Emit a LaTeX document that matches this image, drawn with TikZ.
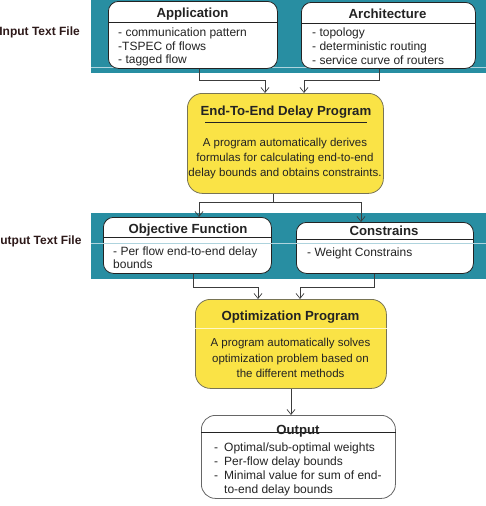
\documentclass[tikz,border=0pt]{standalone}
\usepackage{fontspec}
\setmainfont{Liberation Sans}
\usetikzlibrary{arrows.meta}
\definecolor{teal1}{RGB}{40,142,162}
\definecolor{yel}{RGB}{250,227,70}
\definecolor{yelb}{RGB}{120,116,85}
\definecolor{ink}{RGB}{35,35,35}
\definecolor{conncol}{RGB}{60,60,60}
\definecolor{lbl}{RGB}{45,25,25}
\definecolor{bandline}{RGB}{175,212,222}
\begin{document}
\begin{tikzpicture}[x=1pt,y=-1pt,
 band/.style={fill=teal1, draw=none, minimum width=395pt, anchor=north west, inner sep=0pt},
 wbox/.style={draw=ink, fill=white, rounded corners=10pt, line width=0.8pt, anchor=north west, inner sep=0pt},
 ybox/.style={draw=yelb, fill=yel, rounded corners=15pt, line width=0.8pt, anchor=north west, inner sep=0pt},
 obox/.style={draw=gray!80!black, fill=white, rounded corners=14pt, line width=0.8pt, anchor=north west, inner sep=0pt},
 ttl/.style={font=\fontsize{13.2}{15}\selectfont\bfseries, text=ink, inner sep=0pt, anchor=base},
 body/.style={font=\fontsize{12}{14}\selectfont, text=ink, inner sep=0pt, anchor=base west},
 cbody/.style={font=\fontsize{11.5}{14}\selectfont, text=ink, inner sep=0pt, anchor=base},
 lab/.style={font=\fontsize{12}{14}\selectfont\bfseries, text=lbl, inner sep=0pt, anchor=base east},
 conn/.style={draw=conncol, line width=0.7pt, -{Straight Barb[length=5pt,width=8pt]}},
 plainconn/.style={draw=conncol, line width=0.7pt},
 sepline/.style={draw=ink, line width=0.7pt},
]
\useasboundingbox (0,0) rectangle (486,506);
\clip (0,0) rectangle (486,506);

% bands
\node[band, minimum height=73pt] (band1) at (91,0) {};
\node[band, minimum height=66pt] (band2) at (91,213) {};
\draw[bandline, line width=0.8pt] (band1.west |- 0,67) -- (band1.east |- 0,67);

% labels
\node[lab] (inlab) at (80,35.7) {Input Text File};
\node[lab] (outlab) at (81.7,244.3) {Output Text File};

% top boxes
\node[wbox, minimum width=169pt, minimum height=67pt] (app) at (108,1) {};
\node[wbox, minimum width=174pt, minimum height=66pt] (arch) at (301,2) {};
\draw[sepline] (app.west |- 0,22) -- (app.east |- 0,22);
\draw[sepline] (arch.west |- 0,23) -- (arch.east |- 0,23);
\node[ttl] (appt) at (192.5,17.3) {Application};
\node[body] (app1) at (118,36.5) {- communication pattern};
\node[body] (app2) at (118,50) {-TSPEC of flows};
\node[body] (app3) at (118,63.5) {- tagged flow};
\node[ttl] (archt) at (387.5,18.3) {Architecture};
\node[body] (arch1) at (312,36) {- topology};
\node[body] (arch2) at (312,50) {- deterministic routing};
\node[body] (arch3) at (312,64) {- service curve of routers};

% end-to-end box
\node[ybox, minimum width=196pt, minimum height=100pt] (e2e) at (187,93) {};
\node[ttl] (e2et) at (286,115) {End-To-End Delay Program};
\draw[sepline] (205,122) -- (367,122);
\node[cbody] (e2e1) at (285,146.7) {A program automatically derives};
\node[cbody] (e2e2) at (285,161.7) {formulas for calculating end-to-end};
\node[cbody] (e2e3) at (285,176.7) {delay bounds and obtains constraints.};

% middle boxes
\node[wbox, minimum width=168pt, minimum height=56pt] (obj) at (103,217) {};
\node[wbox, minimum width=177pt, minimum height=51pt] (cons) at (296,222) {};
\draw[sepline] (obj.west |- 0,237) -- (obj.east |- 0,237);
\draw[sepline] (cons.west |- 0,239) -- (cons.east |- 0,239);
\draw[bandline, line width=0.8pt] (band2.west |- 0,243) -- (band2.east |- 0,243);
\node[ttl] (objt) at (188,233.3) {Objective Function};
\node[body] (obj1) at (113,255) {- Per flow end-to-end delay};
\node[body] (obj2) at (113,268.3) {bounds};
\node[ttl] (const) at (384,235) {Constrains};
\node[body] (cons1) at (307,256) {- Weight Constrains};

% optimization box
\node[ybox, minimum width=191pt, minimum height=89pt] (opt) at (195,299) {};
\draw[yel!30!white, line width=0.8pt] (opt.west |- 0,328) -- (opt.east |- 0,328);
\node[ttl] (optt) at (290.5,320.7) {Optimization Program};
\node[cbody] (opt1) at (290.5,346.7) {A program automatically solves};
\node[cbody] (opt2) at (290.5,362.7) {optimization problem based on};
\node[cbody] (opt3) at (290.5,377.7) {the different methods};

% output box
\node[obox, minimum width=194pt, minimum height=83pt] (out) at (201,415) {};
\draw[sepline] (out.west |- 0,432.7) -- (out.east |- 0,432.7);
\node[ttl] (outt) at (298,434) {Output};
\node[body] (d1) at (214,451.7) {-};
\node[body] (o1) at (224,451.7) {Optimal/sub-optimal weights};
\node[body] (d2) at (214,465.5) {-};
\node[body] (o2) at (224,465.5) {Per-flow delay bounds};
\node[body] (d3) at (214,479.3) {-};
\node[body] (o3) at (224,479.3) {Minimal value for sum of end-};
\node[body] (o4) at (224,493.3) {to-end delay bounds};

% connectors
\draw[conn] (app.south -| 199,0) |- (265,80) -- (e2e.north -| 265,0);
\draw[conn] (arch.south -| 379,0) |- (304,80) -- (e2e.north -| 304,0);
\draw[plainconn] (e2e.south -| 273,0) -- (273,202);
\draw[conn] (273,202) -| (obj.north -| 199,0);
\draw[conn] (273,202) -| (cons.north -| 361,0);
\draw[conn] (obj.south -| 193,0) |- (258,287) -- (opt.north -| 258,0);
\draw[conn] (cons.south -| 374,0) |- (300,287) -- (opt.north -| 300,0);
\draw[conn] (opt.south -| 291,0) -- (out.north -| 291,0);
\end{tikzpicture}
\end{document}
